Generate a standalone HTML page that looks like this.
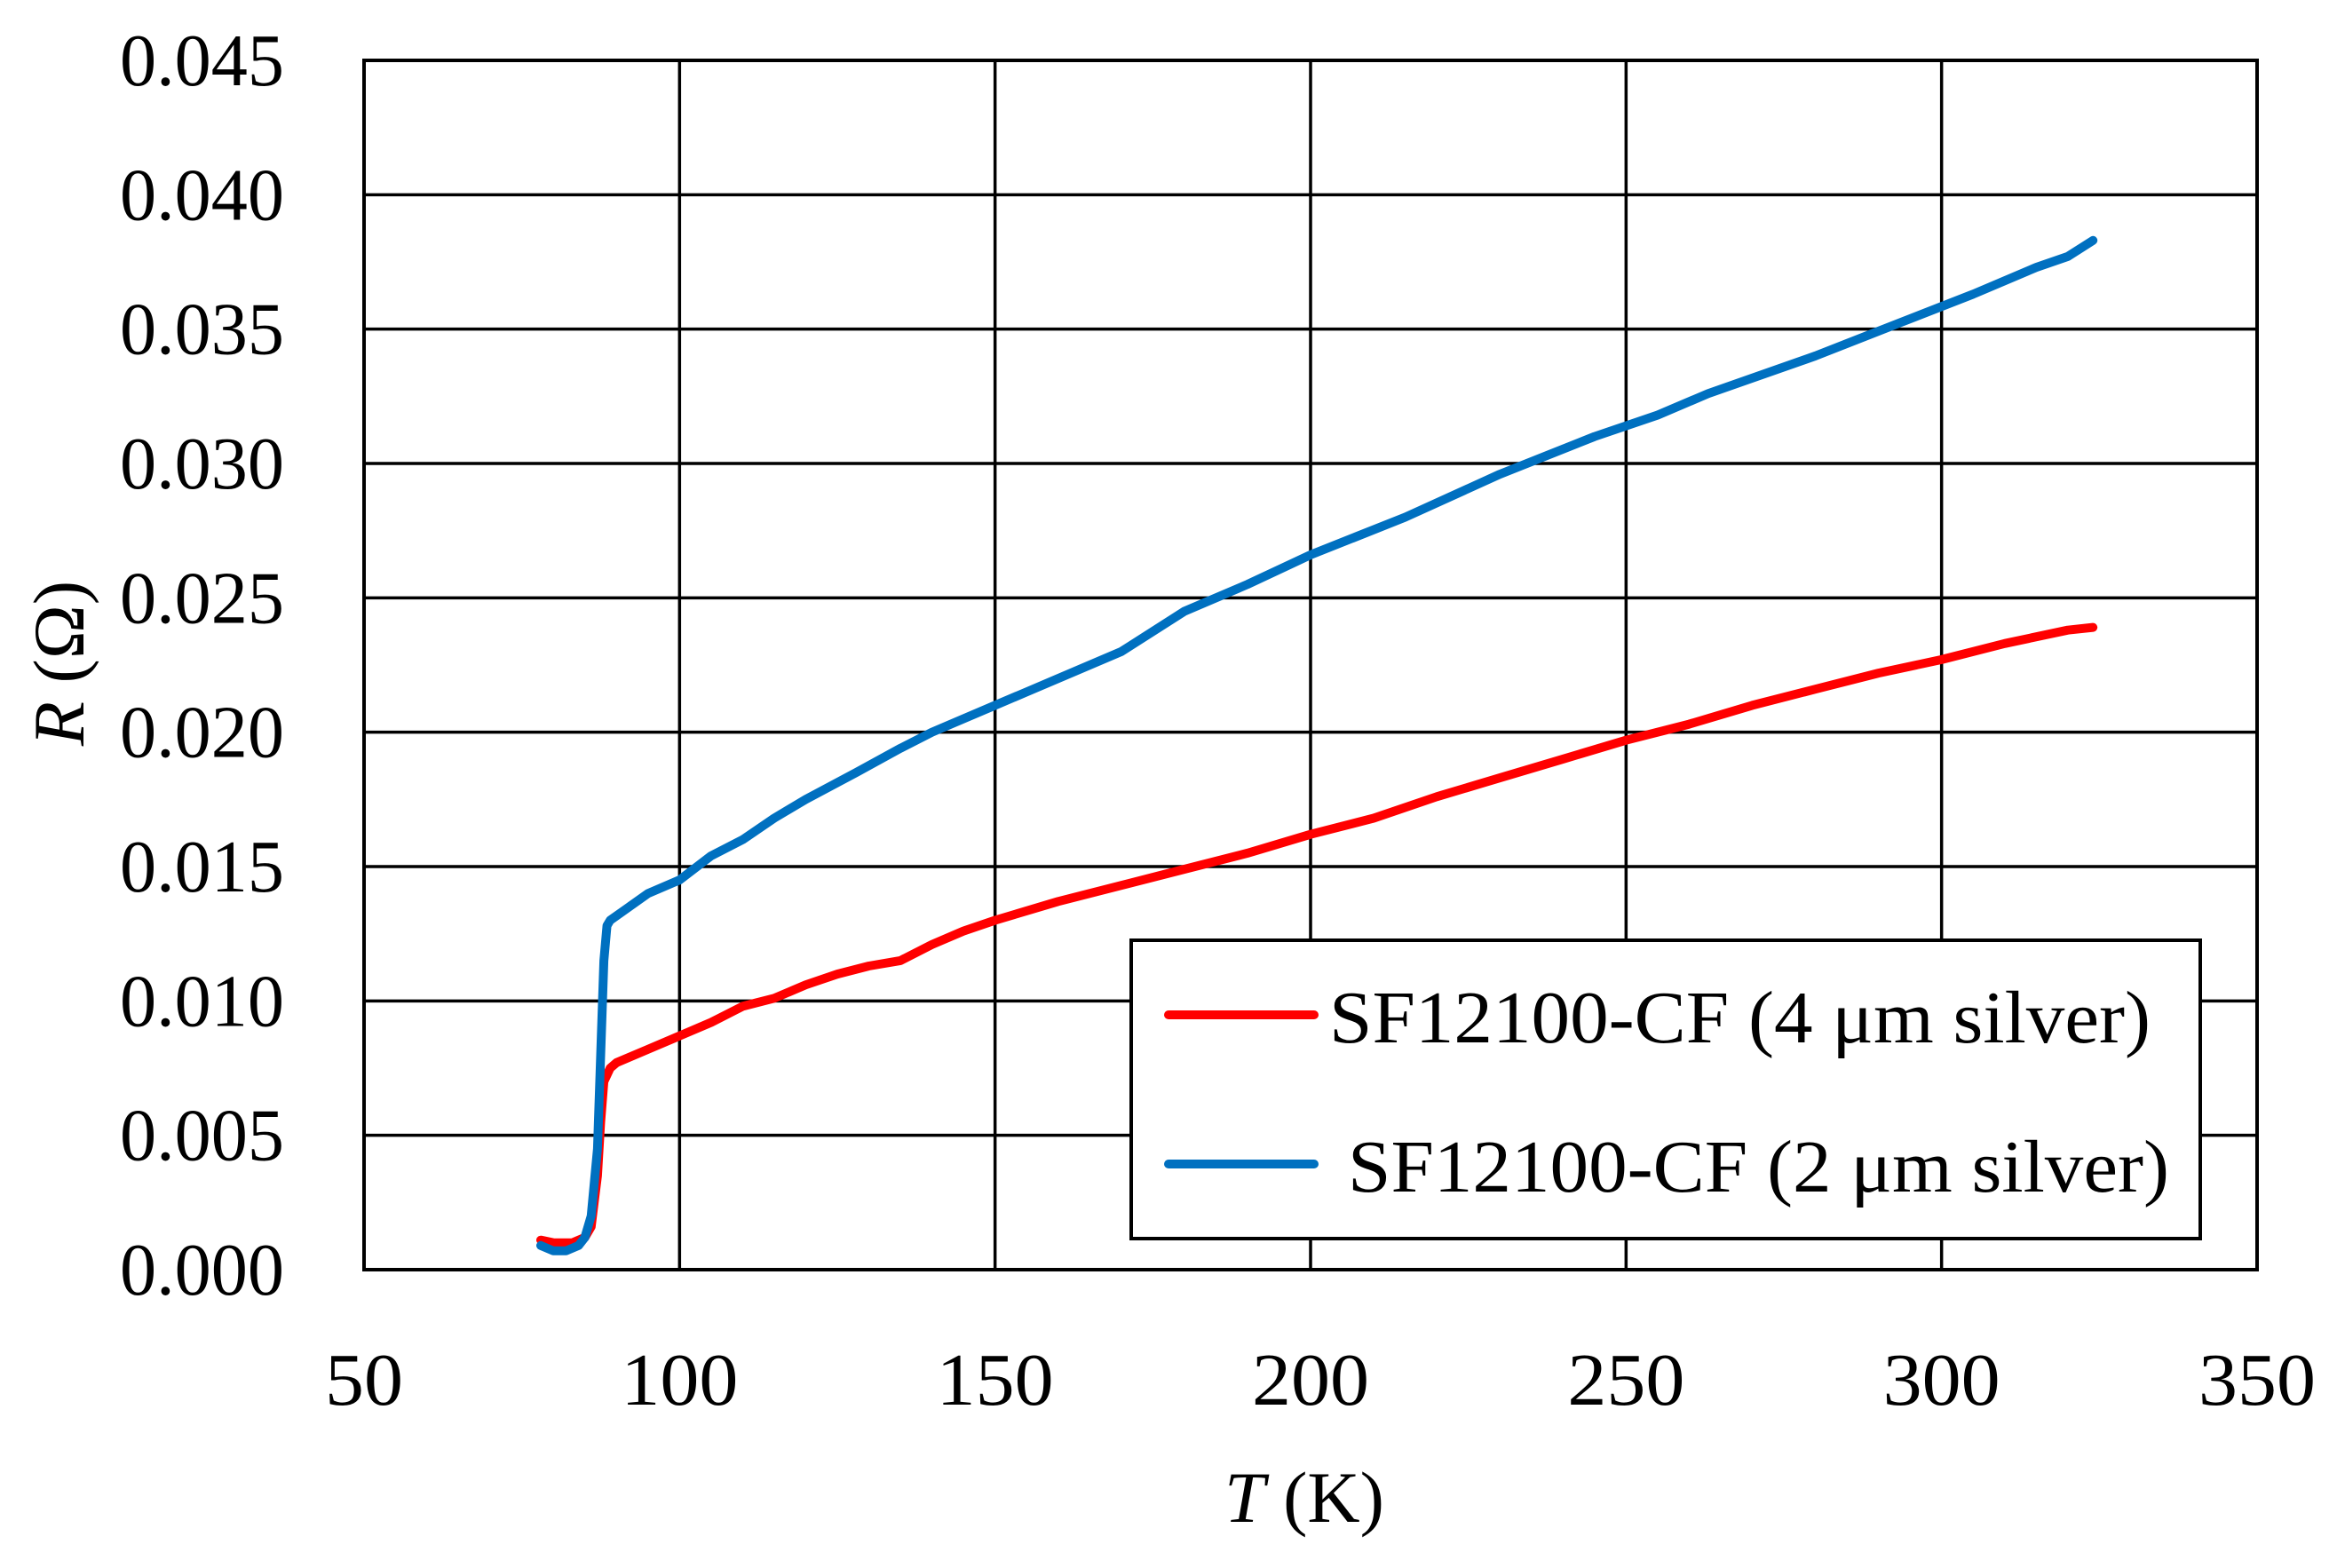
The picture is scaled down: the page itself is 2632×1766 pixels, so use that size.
<!DOCTYPE html>
<html><head><meta charset="utf-8"><style>html,body{margin:0;padding:0;background:#fff}svg{display:block}</style></head>
<body>
<svg id="chart" width="2632" height="1766" xmlns="http://www.w3.org/2000/svg" font-family="'Liberation Serif', serif"></svg>
<script>
const xTicks=[50,100,150,200,250,300,350];
const yTicks=[0,0.005,0.010,0.015,0.020,0.025,0.030,0.035,0.040,0.045];
const yTickLabels=["0.000","0.005","0.010","0.015","0.020","0.025","0.030","0.035","0.040","0.045"];
const redT=[78,80,83,85,86,87,87.5,88,89,90,95,100,105,110,115,120,125,130,135,140,145,150,160,170,180,190,200,210,220,230,240,250,260,270,280,290,300,310,320,324];
const redR=[0.0011,0.0010,0.0010,0.0012,0.0016,0.0035,0.0055,0.0070,0.0075,0.0077,0.0082,0.0087,0.0092,0.0098,0.0101,0.0106,0.0110,0.0113,0.0115,0.0121,0.0126,0.0130,0.0137,0.0143,0.0149,0.0155,0.0162,0.0168,0.0176,0.0183,0.0190,0.0197,0.0203,0.0210,0.0216,0.0222,0.0227,0.0233,0.0238,0.0239];
const blueT=[78,80,82,84,85,86,87,87.5,88,88.5,89,92,95,100,105,110,115,120,128,135,140,150,155,170,180,190,200,215,230,245,255,263,280,293,305,315,320,324];
const blueR=[0.0009,0.0007,0.0007,0.0009,0.0012,0.0020,0.0045,0.0080,0.0115,0.0128,0.0130,0.0135,0.0140,0.0145,0.0154,0.0160,0.0168,0.0175,0.0185,0.0194,0.0200,0.0210,0.0215,0.0230,0.0245,0.0255,0.0266,0.0280,0.0296,0.0310,0.0318,0.0326,0.0340,0.0352,0.0363,0.0373,0.0377,0.0383];
const L=410,R=2542,T=68,B=1430;
const sx=v=>L+(v-50)/300*(R-L);
const sy=v=>B-v/0.045*(B-T);
const svg=document.getElementById('chart');
const NS='http://www.w3.org/2000/svg';
function mk(tag,attrs,parent){const e=document.createElementNS(NS,tag);for(const k in attrs)e.setAttribute(k,attrs[k]);(parent||svg).appendChild(e);return e;}
const grid=mk('g',{});


xTicks.forEach(v=>{const l=mk('line',{x1:sx(v),x2:sx(v),y1:T,y2:B,stroke:'#000','stroke-width':3.5},grid);


const t=mk('text',{x:sx(v),y:1582,'font-size':84,'text-anchor':'middle',textLength:String(v).length*44,lengthAdjust:'spacingAndGlyphs'});t.textContent=v;

});
yTicks.forEach((v,i)=>{const l=mk('line',{x1:L,x2:R,y1:sy(v),y2:sy(v),stroke:'#000','stroke-width':3.5},grid);


const t=mk('text',{x:320,y:sy(v)+28,'font-size':84,'text-anchor':'end',textLength:185,lengthAdjust:'spacingAndGlyphs'});t.textContent=yTickLabels[i];

});
const frame=mk('rect',{x:L,y:T,width:R-L,height:B-T,fill:'none',stroke:'#000','stroke-width':4});


function series(ts,rs,col,name){const d=ts.map((t,i)=>(i?'L':'M')+sx(t).toFixed(1)+' '+sy(rs[i]).toFixed(1)).join(' ');
const p=mk('path',{d:d,fill:'none',stroke:col,'stroke-width':10,'stroke-linejoin':'round','stroke-linecap':'round'});

}
series(redT,redR,'#ff0000','series-4um-silver');
series(blueT,blueR,'#0070c0','series-2um-silver');
const lg=mk('g',{});


mk('rect',{x:1274,y:1059,width:1204,height:336,fill:'#fff',stroke:'#000','stroke-width':4},lg);
mk('line',{x1:1316,x2:1480,y1:1143,y2:1143,stroke:'#ff0000','stroke-width':10,'stroke-linecap':'round'},lg);
mk('line',{x1:1316,x2:1480,y1:1311,y2:1311,stroke:'#0070c0','stroke-width':10,'stroke-linecap':'round'},lg);
const t1=mk('text',{x:1497,y:1174,'font-size':84,textLength:925,lengthAdjust:'spacingAndGlyphs'},lg);t1.textContent='SF12100-CF (4 μm silver)';


const t2=mk('text',{x:1518,y:1342,'font-size':84,textLength:925,lengthAdjust:'spacingAndGlyphs'},lg);t2.textContent='SF12100-CF (2 μm silver)';


const xt=mk('text',{x:1469,y:1714,'font-size':82,'text-anchor':'middle'});
xt.innerHTML='<tspan font-style="italic">T</tspan>  (K)';


const yt=mk('text',{x:0,y:0,'font-size':82,'text-anchor':'middle',transform:'translate(94,747) rotate(-90)'});
yt.innerHTML='<tspan font-style="italic">R</tspan> (Ω)';


</script>
</body></html>
